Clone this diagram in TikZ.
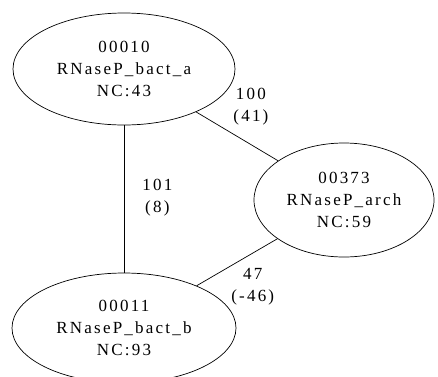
\documentclass[tikz,border=0pt]{standalone}
\usepackage{fontspec}
\setmainfont{Liberation Serif}[LetterSpace=13]
\usetikzlibrary{shapes.geometric}

\begin{document}
\begin{tikzpicture}[x=1pt, y=-1pt, line width=0.7pt,
            family/.style={draw, ellipse, inner sep=0pt, align=center,
                           font=\fontsize{17}{22}\selectfont},
            weight/.style={inner sep=0pt, align=center,
                           font=\fontsize{17}{22}\selectfont}]
            \useasboundingbox (0,0) rectangle (438,376);
            \node [family, minimum width=222, minimum height=112] (bacta) at (124,69)
                {00010\\RNaseP\_bact\_a\\NC:43};
            \node [family, minimum width=180, minimum height=114] (arch) at (344,200)
                {00373\\RNaseP\_arch\\NC:59};
            \node [family, minimum width=224, minimum height=110] (bactb) at (124,328)
                {00011\\RNaseP\_bact\_b\\NC:93};
            \draw (bacta) -- node [weight, anchor=west, xshift=18, yshift=1] {101\\(8)} (bactb);
            \draw (bacta) -- node [weight, anchor=south west, xshift=-4, yshift=11] {100\\(41)} (arch);
            \draw (bactb) -- node [weight, anchor=north west, xshift=-6, yshift=-6] {47\\(-46)} (arch);
        \end{tikzpicture}
\end{document}
